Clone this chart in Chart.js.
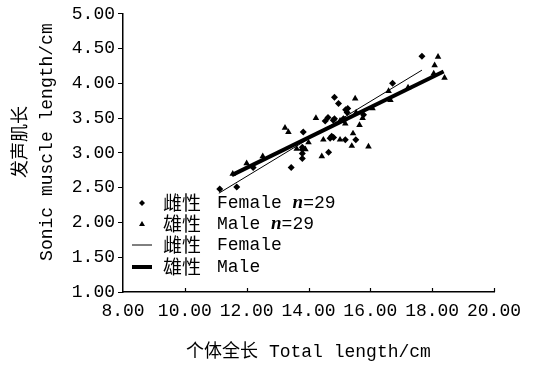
<!DOCTYPE html>
<html>
<head>
<meta charset="utf-8">
<script src="https://cdn.jsdelivr.net/npm/chart.js@4/dist/chart.umd.min.js"></script>
<style>
  body { margin: 0; background: #fff; }
</style>
</head>
<body>
<canvas id="chart" width="543" height="366"></canvas>
<script>
// 雌性 Female, n=29
const femaleX = [11.13, 11.68, 12.21, 13.44, 13.83, 13.80, 13.80, 13.80, 14.54, 14.84,
                 14.97, 15.27, 14.84, 14.63, 14.70, 14.81, 15.19, 15.13, 15.78, 15.53,
                 14.65, 16.72, 17.67, 15.25, 14.80, 13.80, 15.20, 14.75, 15.15];
const femaleY = [2.48, 2.51, 2.79, 2.79, 3.30, 3.05, 2.99, 2.92, 3.46, 3.80,
                 3.71, 3.64, 3.49, 3.51, 3.21, 3.22, 3.19, 3.49, 3.55, 3.19,
                 3.01, 4.00, 4.39, 3.58, 3.47, 3.08, 3.62, 3.24, 3.47];

// 雄性 Male, n=29
const maleX = [11.55, 12.52, 13.24, 13.35, 13.62, 14.24, 14.48, 14.43, 15.02, 15.19,
               15.02, 15.51, 15.54, 15.65, 15.44, 15.40, 15.94, 16.07, 16.59, 16.65,
               17.22, 18.19, 18.08, 18.05, 18.40, 14.00, 13.90, 12.00, 15.75];
const maleY = [2.70, 2.95, 3.36, 3.30, 3.06, 3.50, 3.19, 2.95, 3.46, 3.42,
               3.19, 3.78, 3.58, 3.40, 3.28, 3.10, 3.09, 3.64, 3.89, 3.76,
               3.94, 4.38, 4.26, 4.14, 4.08, 3.15, 3.05, 2.85, 3.50];

// fitted lines, end points
const femaleFitX = [11.10, 17.67];
const femaleFitY = [2.42, 4.19];
const maleFitX = [11.52, 18.37];
const maleFitY = [2.68, 4.17];

const seriesNames = ['雌性', '雄性', '雌性', '雄性'];
const seriesNamesEn = ['Female', 'Male', 'Female', 'Male'];
const sampleSizes = [29, 29];

const toPoints = (xs, ys) => xs.map((x, i) => ({ x: x, y: ys[i] }));

const MONO = '"Liberation Mono", "Noto Sans CJK SC", monospace';

// small tick marks on the x axis point up into the plot
const innerTicks = {
  id: 'innerTicks',
  afterDraw(chart) {
    const xs = chart.scales.x;
    const ctx = chart.ctx;
    ctx.save();
    ctx.strokeStyle = '#000';
    ctx.lineWidth = 1.2;
    xs.ticks.forEach((t, i) => {
      if (i === 0) return;
      const px = Math.round(xs.getPixelForValue(t.value)) + 0.5;
      ctx.beginPath();
      ctx.moveTo(px, xs.top);
      ctx.lineTo(px, xs.top - 4);
      ctx.stroke();
    });
    ctx.restore();
  }
};

// legend box inside the plot, lower left
const insideLegend = {
  id: 'insideLegend',
  afterDraw(chart) {
    const ctx = chart.ctx;
    const symX = 142, cnX = 163, enX = 217;
    const rowsY = [203, 224, 245, 267];
    ctx.save();
    ctx.fillStyle = '#000';
    ctx.strokeStyle = '#000';
    ctx.textBaseline = 'middle';
    rowsY.forEach((y, i) => {
      if (i === 0) {
        ctx.beginPath();
        ctx.moveTo(symX, y - 3); ctx.lineTo(symX + 3, y);
        ctx.lineTo(symX, y + 3); ctx.lineTo(symX - 3, y);
        ctx.closePath(); ctx.fill();
      } else if (i === 1) {
        ctx.beginPath();
        ctx.moveTo(symX, y - 3); ctx.lineTo(symX + 3, y + 2);
        ctx.lineTo(symX - 3, y + 2);
        ctx.closePath(); ctx.fill();
      } else {
        ctx.lineWidth = i === 2 ? 1 : 4;
        ctx.beginPath();
        ctx.moveTo(symX - 10, y); ctx.lineTo(symX + 10, y);
        ctx.stroke();
      }
      ctx.font = '19px "Noto Sans CJK SC"';
      ctx.fillText(seriesNames[i], cnX, y);
      ctx.font = '18px ' + MONO;
      let label = seriesNamesEn[i];
      if (i < 2) label += ' ';
      ctx.fillText(label, enX, y);
      if (i < 2) {
        let x = enX + ctx.measureText(label).width;
        ctx.font = 'italic bold 19px "Liberation Serif"';
        ctx.fillText('n', x, y);
        x += ctx.measureText('n').width;
        ctx.font = '18px ' + MONO;
        ctx.fillText('=' + sampleSizes[i], x, y);
      }
    });
    ctx.restore();
  }
};

new Chart(document.getElementById('chart'), {
  type: 'scatter',
  data: {
    datasets: [
      {
        label: 'Female n=29',
        data: toPoints(femaleX, femaleY),
        pointStyle: 'rectRot',
        pointRadius: 3.5,
        backgroundColor: '#000',
        borderColor: '#000',
        borderWidth: 0
      },
      {
        label: 'Male n=29',
        data: toPoints(maleX, maleY),
        pointStyle: 'triangle',
        pointRadius: 3.8,
        backgroundColor: '#000',
        borderColor: '#000',
        borderWidth: 0
      },
      {
        type: 'line',
        label: 'Female',
        data: toPoints(femaleFitX, femaleFitY),
        borderColor: '#000',
        borderWidth: 1,
        pointRadius: 0,
        fill: false
      },
      {
        type: 'line',
        label: 'Male',
        data: toPoints(maleFitX, maleFitY),
        borderColor: '#000',
        borderWidth: 4,
        pointRadius: 0,
        fill: false
      }
    ]
  },
  options: {
    responsive: false,
    animation: false,
    layout: { padding: { left: 0, right: 49, top: 13, bottom: 0 } },
    plugins: {
      legend: { display: false },
      tooltip: { enabled: false }
    },
    scales: {
      x: {
        type: 'linear',
        min: 8,
        max: 20,
        afterFit: (scale) => { scale.height = 74; },
        ticks: {
          stepSize: 2,
          color: '#000',
          padding: 8,
          maxRotation: 0,
          font: { family: MONO, size: 18 },
          callback: (v) => v.toFixed(2)
        },
        grid: { drawOnChartArea: false, drawTicks: false },
        border: { color: '#000', width: 1.5 },
        title: {
          display: true,
          text: '个体全长 Total length/cm',
          color: '#000',
          font: { family: MONO, size: 18 },
          padding: { top: 0, bottom: 3 }
        }
      },
      y: {
        min: 1,
        max: 5,
        afterFit: (scale) => { scale.width = 123; },
        ticks: {
          stepSize: 0.5,
          color: '#000',
          padding: 3,
          font: { family: MONO, size: 18 },
          callback: (v) => v.toFixed(2)
        },
        grid: { drawOnChartArea: false, drawTicks: true, tickLength: 5, color: '#000' },
        border: { color: '#000', width: 1.5 },
        title: {
          display: true,
          text: ['  发声肌长', '  Sonic muscle length/cm'],
          color: '#000',
          font: { family: MONO, size: 18, lineHeight: 1.4 },
          padding: { top: 9, bottom: 0 }
        }
      }
    }
  },
  plugins: [innerTicks, insideLegend]
});
</script>
</body>
</html>
